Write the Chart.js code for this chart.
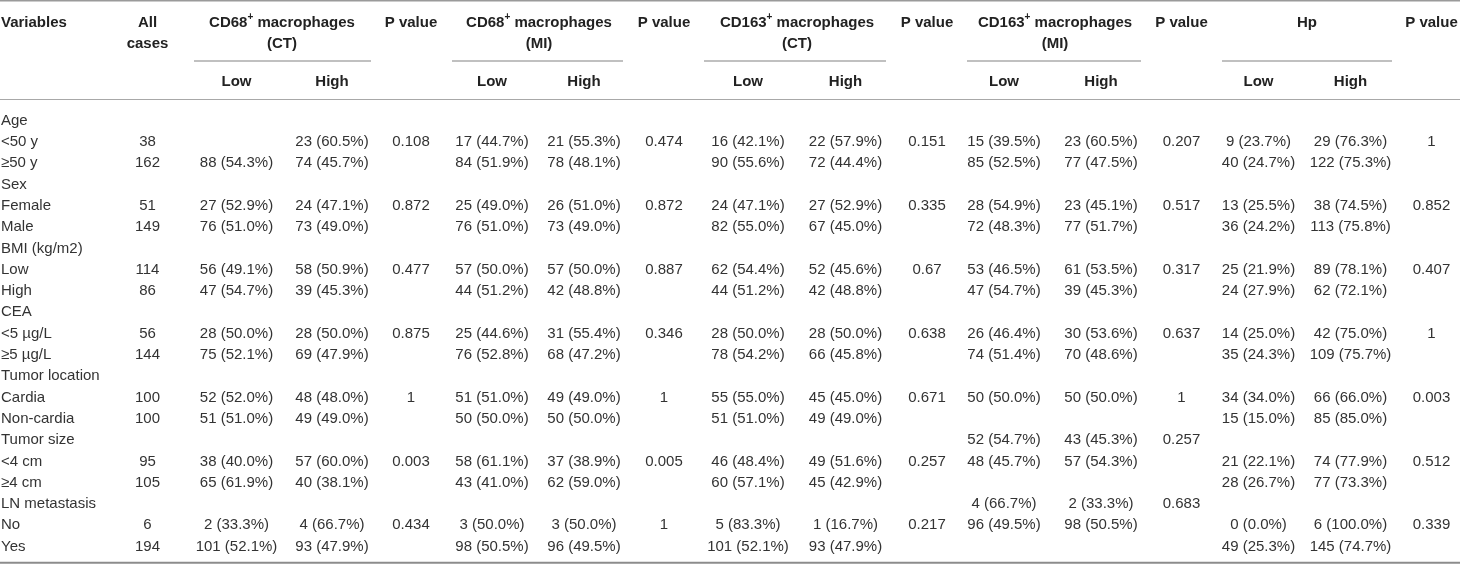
<html>
<head>
<script src="https://cdn.jsdelivr.net/npm/chart.js@4.4.1/dist/chart.umd.min.js"></script>
<style>
body { margin: 0; background: #fff; }
#wrap { width: 1460px; height: 564px; }
</style>
</head>
<body>
<div id="wrap"><canvas id="myChart" width="1460" height="564"></canvas></div>
<script type="text/javascript">

// ---- table data (one array per column, "" = empty cell) ----
const variables = ["Age", "<50 y", "\u226550 y", "Sex", "Female", "Male", "BMI (kg/m2)", "Low", "High",
	"CEA", "<5 \u00b5g/L", "\u22655 \u00b5g/L", "Tumor location", "Cardia", "Non-cardia",
	"Tumor size", "<4 cm", "\u22654 cm", "LN metastasis", "No", "Yes"];

const allCases = ["", "38", "162", "", "51", "149", "", "114", "86", "", "56", "144", "", "100", "100", "", "95", "105", "", "6", "194"];

const cd68CtLow = ["", "", "88 (54.3%)", "", "27 (52.9%)", "76 (51.0%)", "", "56 (49.1%)", "47 (54.7%)", "", "28 (50.0%)", "75 (52.1%)",
	"", "52 (52.0%)", "51 (51.0%)", "", "38 (40.0%)", "65 (61.9%)", "", "2 (33.3%)", "101 (52.1%)"];
const cd68CtHigh = ["", "23 (60.5%)", "74 (45.7%)", "", "24 (47.1%)", "73 (49.0%)", "", "58 (50.9%)", "39 (45.3%)", "", "28 (50.0%)", "69 (47.9%)",
	"", "48 (48.0%)", "49 (49.0%)", "", "57 (60.0%)", "40 (38.1%)", "", "4 (66.7%)", "93 (47.9%)"];
const cd68CtP = ["", "0.108", "", "", "0.872", "", "", "0.477", "", "", "0.875", "", "", "1", "", "", "0.003", "", "", "0.434", ""];

const cd68MiLow = ["", "17 (44.7%)", "84 (51.9%)", "", "25 (49.0%)", "76 (51.0%)", "", "57 (50.0%)", "44 (51.2%)", "", "25 (44.6%)", "76 (52.8%)",
	"", "51 (51.0%)", "50 (50.0%)", "", "58 (61.1%)", "43 (41.0%)", "", "3 (50.0%)", "98 (50.5%)"];
const cd68MiHigh = ["", "21 (55.3%)", "78 (48.1%)", "", "26 (51.0%)", "73 (49.0%)", "", "57 (50.0%)", "42 (48.8%)", "", "31 (55.4%)", "68 (47.2%)",
	"", "49 (49.0%)", "50 (50.0%)", "", "37 (38.9%)", "62 (59.0%)", "", "3 (50.0%)", "96 (49.5%)"];
const cd68MiP = ["", "0.474", "", "", "0.872", "", "", "0.887", "", "", "0.346", "", "", "1", "", "", "0.005", "", "", "1", ""];

const cd163CtLow = ["", "16 (42.1%)", "90 (55.6%)", "", "24 (47.1%)", "82 (55.0%)", "", "62 (54.4%)", "44 (51.2%)", "", "28 (50.0%)", "78 (54.2%)",
	"", "55 (55.0%)", "51 (51.0%)", "", "46 (48.4%)", "60 (57.1%)", "", "5 (83.3%)", "101 (52.1%)"];
const cd163CtHigh = ["", "22 (57.9%)", "72 (44.4%)", "", "27 (52.9%)", "67 (45.0%)", "", "52 (45.6%)", "42 (48.8%)", "", "28 (50.0%)", "66 (45.8%)",
	"", "45 (45.0%)", "49 (49.0%)", "", "49 (51.6%)", "45 (42.9%)", "", "1 (16.7%)", "93 (47.9%)"];
const cd163CtP = ["", "0.151", "", "", "0.335", "", "", "0.67", "", "", "0.638", "", "", "0.671", "", "", "0.257", "", "", "0.217", ""];

const cd163MiLow = ["", "15 (39.5%)", "85 (52.5%)", "", "28 (54.9%)", "72 (48.3%)", "", "53 (46.5%)", "47 (54.7%)", "", "26 (46.4%)", "74 (51.4%)",
	"", "50 (50.0%)", "", "52 (54.7%)", "48 (45.7%)", "", "4 (66.7%)", "96 (49.5%)", ""];
const cd163MiHigh = ["", "23 (60.5%)", "77 (47.5%)", "", "23 (45.1%)", "77 (51.7%)", "", "61 (53.5%)", "39 (45.3%)", "", "30 (53.6%)", "70 (48.6%)",
	"", "50 (50.0%)", "", "43 (45.3%)", "57 (54.3%)", "", "2 (33.3%)", "98 (50.5%)", ""];
const cd163MiP = ["", "0.207", "", "", "0.517", "", "", "0.317", "", "", "0.637", "", "", "1", "", "0.257", "", "", "0.683", "", ""];

const hpLow = ["", "9 (23.7%)", "40 (24.7%)", "", "13 (25.5%)", "36 (24.2%)", "", "25 (21.9%)", "24 (27.9%)", "", "14 (25.0%)", "35 (24.3%)",
	"", "34 (34.0%)", "15 (15.0%)", "", "21 (22.1%)", "28 (26.7%)", "", "0 (0.0%)", "49 (25.3%)"];
const hpHigh = ["", "29 (76.3%)", "122 (75.3%)", "", "38 (74.5%)", "113 (75.8%)", "", "89 (78.1%)", "62 (72.1%)", "", "42 (75.0%)", "109 (75.7%)",
	"", "66 (66.0%)", "85 (85.0%)", "", "74 (77.9%)", "77 (73.3%)", "", "6 (100.0%)", "145 (74.7%)"];
const hpP = ["", "1", "", "", "0.852", "", "", "0.407", "", "", "1", "", "", "0.003", "", "", "0.512", "", "", "0.339", ""];

// header texts ("^" wraps a superscript)
const groupTitles = ["CD68^+^ macrophages", "CD68^+^ macrophages", "CD163^+^ macrophages", "CD163^+^ macrophages", "Hp"];
const groupSubtitles = ["(CT)", "(MI)", "(CT)", "(MI)", ""];
const subHeads = ["Low", "High"];

// ---- layout (pixels) ----
const W = 1460, H = 564;
const ROW0 = 119, PITCH = 21.3;          // first body row centre, row spacing
const toRow = px => (px - ROW0) / PITCH;  // header positions into row units
const HEAD1 = toRow(21), HEAD2 = toRow(42.5), SUBHEAD = toRow(80);
const TEXT_NUDGE = 1.6;                   // canvas 'middle' sits a bit high for this font

const varX = 1, allX = 147.5;
// per group: low, high, p, title centre, underline from/to
const groups = [
	{ low: cd68CtLow,  high: cd68CtHigh,  p: cd68CtP,  xs: [236.5, 332, 411],     mid: 282,  rule: [194, 371] },
	{ low: cd68MiLow,  high: cd68MiHigh,  p: cd68MiP,  xs: [492, 584, 664],       mid: 539,  rule: [452, 623] },
	{ low: cd163CtLow, high: cd163CtHigh, p: cd163CtP, xs: [748, 845.5, 927],     mid: 797,  rule: [704, 886] },
	{ low: cd163MiLow, high: cd163MiHigh, p: cd163MiP, xs: [1004, 1101, 1181.5],  mid: 1055, rule: [967, 1141] },
	{ low: hpLow,      high: hpHigh,      p: hpP,      xs: [1258.5, 1350.5, 1431.5], mid: 1307, rule: [1222, 1392] }
];

const FONT = '"Liberation Sans", Arial, Helvetica, sans-serif';
const BODY_FONT = '15px ' + FONT;
const HEAD_FONT = 'bold 15px ' + FONT;
const BODY_COLOR = '#333333';
const HEAD_COLOR = '#222222';

// ---- datasets ----
let datasets = [];

function textColumn(texts, x, ys, bold, align){
	let pts = [], txt = [];
	texts.forEach((t, i) => {
		if(t === "") return;
		pts.push({ x: x, y: ys[i] });
		txt.push(t);
	});
	datasets.push({
		data: pts, cellText: txt, cellFont: bold ? HEAD_FONT : BODY_FONT,
		cellColor: bold ? HEAD_COLOR : BODY_COLOR, cellAlign: align || 'center',
		pointRadius: 0, showLine: false, clip: false
	});
}

function rule(x1, x2, y, width, color){
	datasets.push({
		data: [{ x: x1, y: y }, { x: x2, y: y }],
		showLine: true, pointRadius: 0, borderWidth: width, borderColor: color, clip: false
	});
}

const bodyRows = variables.map((v, i) => i);

// horizontal rules
rule(0, W, toRow(0.8), 1.6, '#9a9a9a');
rule(0, W, toRow(99.5), 1, '#a8a8a8');
rule(0, W, toRow(562.8), 2, '#8c8c8c');
groups.forEach(g => rule(g.rule[0], g.rule[1], toRow(61), 1.3, '#ababab'));

// header text
textColumn(["Variables"], varX, [HEAD1], true, 'left');
textColumn(["All", "cases"], allX, [HEAD1, HEAD2], true);
groups.forEach((g, k) => {
	textColumn([groupTitles[k], groupSubtitles[k]], g.mid, [HEAD1, HEAD2], true);
	textColumn(["P value"], g.xs[2], [HEAD1], true);
	textColumn([subHeads[0]], g.xs[0], [SUBHEAD], true);
	textColumn([subHeads[1]], g.xs[1], [SUBHEAD], true);
});

// body text
textColumn(variables, varX, bodyRows, false, 'left');
textColumn(allCases, allX, bodyRows, false);
groups.forEach(g => {
	textColumn(g.low, g.xs[0], bodyRows, false);
	textColumn(g.high, g.xs[1], bodyRows, false);
	textColumn(g.p, g.xs[2], bodyRows, false);
});

// ---- draw text at each point the scales placed ----
function drawRich(ctx, text, x, y, align, baseFont){
	let parts = text.split('^');
	let supFont = baseFont.replace('15px', '10px');
	let widths = parts.map((p, i) => { ctx.font = (i % 2) ? supFont : baseFont; return ctx.measureText(p).width; });
	let total = widths.reduce((a, b) => a + b, 0);
	let cx = align === 'left' ? x : x - total / 2;
	y += TEXT_NUDGE;
	ctx.textAlign = 'left';
	parts.forEach((p, i) => {
		ctx.font = (i % 2) ? supFont : baseFont;
		ctx.fillText(p, cx, (i % 2) ? y - 5 : y);
		cx += widths[i];
	});
}

const cellTextPlugin = {
	id: 'cellText',
	afterDatasetsDraw(chart){
		let ctx = chart.ctx;
		chart.data.datasets.forEach((ds, di) => {
			if(!ds.cellText) return;
			let meta = chart.getDatasetMeta(di);
			ctx.save();
			ctx.fillStyle = ds.cellColor;
			ctx.textBaseline = 'middle';
			meta.data.forEach((pt, i) => drawRich(ctx, ds.cellText[i], pt.x, pt.y, ds.cellAlign, ds.cellFont));
			ctx.restore();
		});
	}
};

new Chart("myChart", {
	type: "scatter",
	data: { datasets: datasets },
	options: {
		responsive: false,
		animation: false,
		events: [],
		layout: { padding: 0 },
		plugins: { legend: { display: false }, tooltip: { enabled: false } },
		scales: {
			x: { type: 'linear', min: 0, max: W, display: false },
			y: { type: 'linear', min: toRow(0), max: toRow(H), reverse: true, display: false }
		}
	},
	plugins: [cellTextPlugin]
});

</script>
</body>
</html>
